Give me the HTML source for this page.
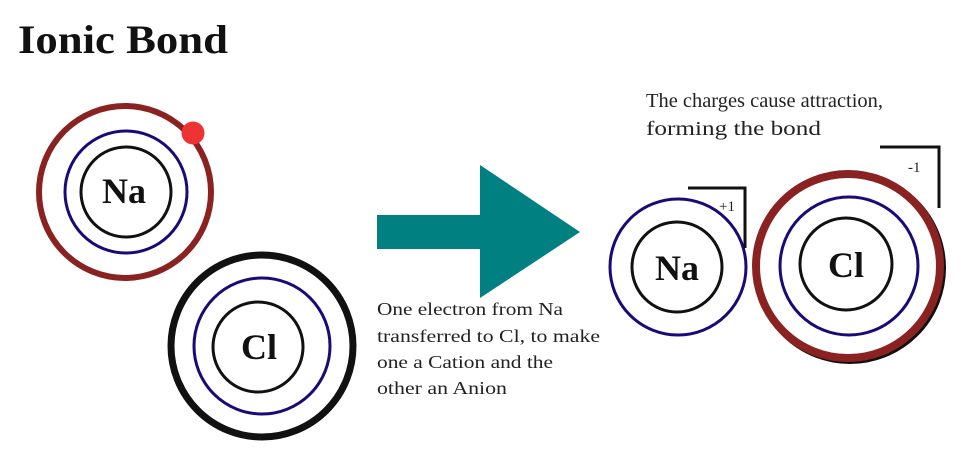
<!DOCTYPE html>
<html><head><meta charset="utf-8"><style>
html,body{margin:0;padding:0;background:#fff;}
svg{display:block}
</style></head><body>
<svg width="975" height="467" viewBox="0 0 975 467" xmlns="http://www.w3.org/2000/svg" font-family="Liberation Serif, serif">
<text x="18" y="53" font-size="40" font-weight="bold" fill="#111" textLength="210" lengthAdjust="spacingAndGlyphs">Ionic Bond</text>
<!-- left Na -->
<circle cx="125" cy="192" r="86" fill="none" stroke="#8b2222" stroke-width="6"/>
<circle cx="126" cy="192" r="61" fill="none" stroke="#1a0a78" stroke-width="3"/>
<circle cx="126" cy="192" r="45" fill="none" stroke="#111" stroke-width="3"/>
<text x="124" y="203" font-size="36" font-weight="bold" text-anchor="middle" fill="#111">Na</text>
<circle cx="193" cy="133" r="11.5" fill="#ee3333"/>
<!-- left Cl -->
<circle cx="262" cy="346" r="91" fill="none" stroke="#111" stroke-width="7"/>
<circle cx="262" cy="346" r="68" fill="none" stroke="#1a0a78" stroke-width="3"/>
<circle cx="258" cy="347" r="45" fill="none" stroke="#111" stroke-width="3"/>
<text x="259" y="359" font-size="36" font-weight="bold" text-anchor="middle" fill="#111">Cl</text>
<!-- arrow -->
<rect x="377" y="215" width="104" height="34" fill="#008080"/>
<polygon points="480,165 580,232 480,298" fill="#008080"/>
<g font-size="18" fill="#222">
<text x="377" y="315" textLength="186" lengthAdjust="spacingAndGlyphs">One electron from Na</text>
<text x="377" y="342" textLength="223" lengthAdjust="spacingAndGlyphs">transferred to Cl, to make</text>
<text x="377" y="368" textLength="176" lengthAdjust="spacingAndGlyphs">one a Cation and the</text>
<text x="377" y="394" textLength="130" lengthAdjust="spacingAndGlyphs">other an Anion</text>
</g>
<g font-size="20" fill="#222">
<text x="646" y="107" textLength="237" lengthAdjust="spacingAndGlyphs">The charges cause attraction,</text>
<text x="646" y="135" textLength="175" lengthAdjust="spacingAndGlyphs">forming the bond</text>
</g>
<!-- right Na -->
<circle cx="678" cy="267" r="68" fill="none" stroke="#1a0a78" stroke-width="3"/>
<circle cx="677" cy="267" r="45" fill="none" stroke="#111" stroke-width="3"/>
<text x="677" y="280" font-size="36" font-weight="bold" text-anchor="middle" fill="#111">Na</text>
<polyline points="688,188 745,188 745,248" fill="none" stroke="#111" stroke-width="3"/>
<text x="719" y="211" font-size="15" fill="#222">+1</text>
<!-- right Cl -->
<circle cx="850" cy="268" r="94" fill="none" stroke="#111" stroke-width="4"/>
<circle cx="848" cy="266" r="92" fill="none" stroke="#8b2222" stroke-width="8"/>
<circle cx="849" cy="266" r="69" fill="none" stroke="#1a0a78" stroke-width="3"/>
<circle cx="846" cy="264" r="46" fill="none" stroke="#111" stroke-width="3"/>
<text x="846" y="277" font-size="36" font-weight="bold" text-anchor="middle" fill="#111">Cl</text>
<polyline points="880,147 939,147 939,208" fill="none" stroke="#111" stroke-width="3"/>
<text x="908" y="172" font-size="15" fill="#222">-1</text>
</svg>
</body></html>
